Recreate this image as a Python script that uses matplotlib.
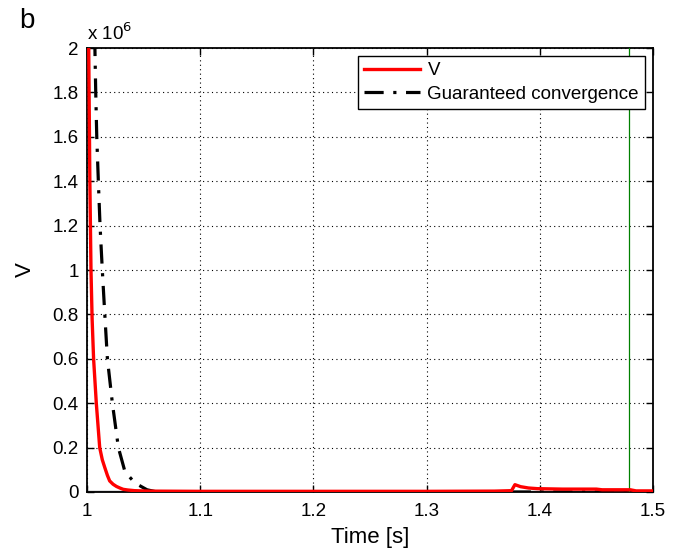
import matplotlib
matplotlib.use("Agg")
import matplotlib.pyplot as plt
from matplotlib.ticker import FuncFormatter

plt.rcParams['font.family'] = ['Liberation Sans', 'DejaVu Sans']

# Lyapunov function V over time
t_v = [1.0000, 1.0015, 1.0025, 1.0035, 1.0045, 1.0058, 1.0082, 1.0112, 1.0135,
       1.0157, 1.0180, 1.0200, 1.0230, 1.0260, 1.0290, 1.0320, 1.0360, 1.0420,
       1.0550, 1.1000, 1.2000, 1.3000, 1.3600, 1.3750, 1.3780, 1.3830, 1.3900,
       1.3980, 1.4200, 1.4500, 1.4550, 1.4800, 1.4850, 1.5000]
v_vals = [2.40e6, 2.00e6, 1.40e6, 1.00e6, 0.78e6, 0.60e6, 0.40e6, 0.20e6, 0.145e6,
          0.11e6, 0.075e6, 0.05e6, 0.035e6, 0.025e6, 0.018e6, 0.012e6, 0.009e6, 0.006e6,
          0.004e6, 0.003e6, 0.003e6, 0.003e6, 0.004e6, 0.006e6, 0.033e6, 0.024e6, 0.018e6,
          0.015e6, 0.013e6, 0.013e6, 0.010e6, 0.010e6, 0.005e6, 0.005e6]

# Guaranteed convergence bound
t_g = [1.0068, 1.0071, 1.0077, 1.0086, 1.0100, 1.0115, 1.0135, 1.0157, 1.0180,
       1.0224, 1.0277, 1.0336, 1.0425, 1.0530, 1.0620, 1.1000, 1.5000]
g_vals = [2.05e6, 1.96e6, 1.80e6, 1.60e6, 1.40e6, 1.20e6, 1.00e6, 0.80e6, 0.60e6,
          0.40e6, 0.20e6, 0.09e6, 0.04e6, 0.01e6, 0.0, 0.0, 0.0]

# Time instant marker
t_marker = 1.479

x_ticks = [1.0, 1.1, 1.2, 1.3, 1.4, 1.5]
y_ticks = [0.0, 0.2e6, 0.4e6, 0.6e6, 0.8e6, 1.0e6, 1.2e6, 1.4e6, 1.6e6, 1.8e6, 2.0e6]

fig = plt.figure(figsize=(6.82, 5.57), dpi=100)
ax = fig.add_axes([0.1276, 0.1167, 0.8299, 0.7971])

# Remaining state traces that stay at zero
ax.plot([1.0, 1.5], [0, 0], color='#808080', lw=2.5, zorder=2)
ax.plot([1.0, 1.5], [0, 0], color='#3030d0', lw=1.0, ls=(0, (2, 6)), zorder=2)

ax.plot(t_v, v_vals, color='#ff0000', lw=2.4, label='V', zorder=4)
ax.plot(t_g, g_vals, color='black', lw=2.3, ls=(0, (6, 3, 1, 3)),
        label='Guaranteed convergence', zorder=3)
ax.axvline(t_marker, color='#008000', lw=0.9, zorder=3)

ax.set_xlim(1.0, 1.5)
ax.set_ylim(0, 2.0e6)
ax.set_xticks(x_ticks)
ax.set_yticks(y_ticks)

def fmt(v, pos):
    s = f"{v:.1f}"
    return s[:-2] if s.endswith('.0') else s

ax.xaxis.set_major_formatter(FuncFormatter(fmt))
ax.yaxis.set_major_formatter(FuncFormatter(lambda v, p: fmt(v / 1e6, p)))

ax.grid(True, color='black', ls=(0, (1, 3)), lw=0.8)
ax.tick_params(direction='in', top=True, right=True, length=5, width=1.0,
               labelsize=13.5, pad=6)
ax.tick_params(axis='x', pad=8)
for sp in ax.spines.values():
    sp.set_linewidth(1.3)

ax.set_xlabel('Time [s]', fontsize=16, labelpad=5)
ax.set_ylabel('V', fontsize=16, labelpad=12)

ax.text(0.0, 1.008, r'x 10$^{6}$', transform=ax.transAxes, fontsize=13.5,
        ha='left', va='bottom')
fig.text(0.039, 0.962, 'b', fontsize=20, ha='center', va='center')

leg = ax.legend(loc='upper right', fontsize=13.5, frameon=True, fancybox=False,
                edgecolor='black', framealpha=1, borderpad=0.3,
                handlelength=3.0, handletextpad=0.4, labelspacing=0.35,
                borderaxespad=0.45)
leg.get_frame().set_linewidth(1.0)

fig.savefig('out.png', dpi=100)
